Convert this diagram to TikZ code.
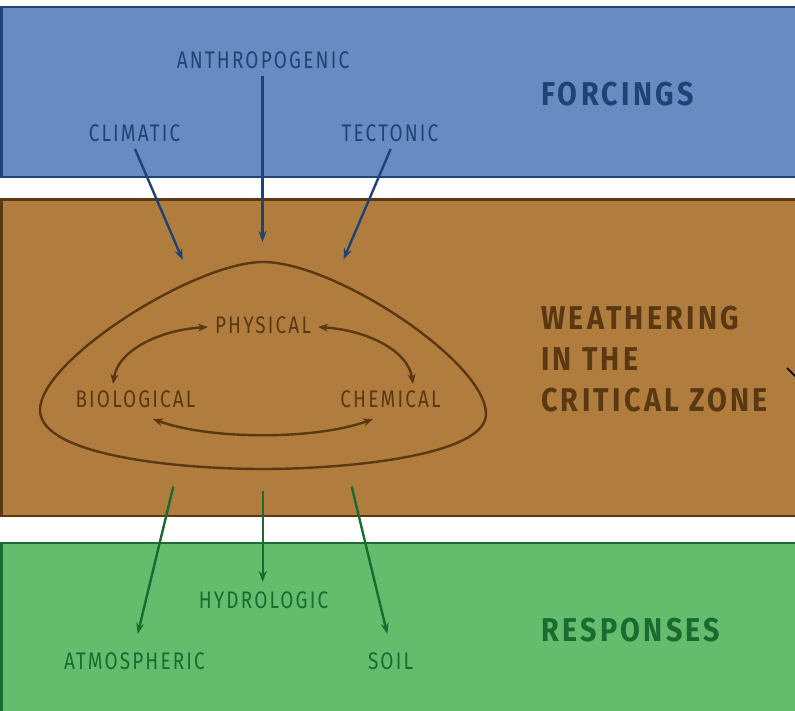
\documentclass[tikz,border=0pt]{standalone}
\usepackage{fontspec}
\setmainfont{Fira Sans}
\newfontfamily\labfont[FakeStretch=0.79,LetterSpace=9]{Fira Sans}
\newfontfamily\headfont[FakeStretch=0.87,LetterSpace=10]{Fira Sans}
\usetikzlibrary{arrows.meta}
\definecolor{bluefill}{HTML}{6A8BC2}
\definecolor{blueline}{HTML}{1E4476}
\definecolor{brownfill}{HTML}{B07D3F}
\definecolor{brownline}{HTML}{5A3812}
\definecolor{greenfill}{HTML}{64BD6C}
\definecolor{greenline}{HTML}{1A6A31}
\tikzset{
  lab/.style={anchor=base,inner sep=0pt,font=\labfont\fontsize{24}{28}\selectfont},
  head/.style={anchor=base west,inner sep=0pt,font=\headfont\bfseries\fontsize{33}{40}\selectfont},
  band/.style={line width=2.5pt},
  arr/.style={line width=2.4pt,-{Stealth[length=11pt,width=8pt]}},
  iarr/.style={line width=2.4pt,brownline,{Stealth[length=10pt,width=8pt]}-{Stealth[length=10pt,width=8pt]}},
}
\begin{document}
\begin{tikzpicture}[x=1pt,y=-1pt]
\useasboundingbox (0,0) rectangle (795,711);
\clip (0,0) rectangle (795,711);
% bands
\draw[band,draw=blueline,fill=bluefill] (1.5,7) rectangle (810,177);
\draw[band,draw=brownline,fill=brownfill] (1.5,199.5) rectangle (810,516);
\draw[band,draw=greenline,fill=greenfill] (1.5,543) rectangle (810,730);
% headings
\node[head,text=blueline] (forc) at (541,106) {FORCINGS};
\node[head,text=brownline] (weat1) at (541,330) {WEATHERING};
\node[head,text=brownline] (weat2) at (541,370.5) {IN THE};
\node[head,text=brownline] (weat3) at (541,411.5) {CRITICAL ZONE};
\node[head,text=greenline] (resp) at (541,641.5) {RESPONSES};
% forcing labels
\node[lab,text=blueline] (anth) at (263,69) {ANTHROPOGENIC};
\node[lab,text=blueline] (clim) at (134.5,142) {CLIMATIC};
\node[lab,text=blueline] (tect) at (390,142) {TECTONIC};
% weathering labels
\node[lab,text=brownline] (phys) at (263,334) {PHYSICAL};
\node[lab,text=brownline] (bio) at (135.5,407) {BIOLOGICAL};
\node[lab,text=brownline] (chem) at (390.5,407) {CHEMICAL};
% response labels
\node[lab,text=greenline] (hydro) at (263.5,608) {HYDROLOGIC};
\node[lab,text=greenline] (atmo) at (134.5,669) {ATMOSPHERIC};
\node[lab,text=greenline] (soil) at (390.5,669) {SOIL};
% blob
\draw[line width=2.4pt,brownline] (263,262) .. controls (335,262) and (486,362) .. (486,414)
  .. controls (486,456) and (345,469) .. (263,469)
  .. controls (180,469) and (40,456) .. (40,410)
  .. controls (40,360) and (195,262) .. (263,262);
% coordinates for connector ends
\coordinate (climS) at (135,149);
\coordinate (climE) at (182.7,260);
\coordinate (anthS) at (262.5,76);
\coordinate (anthE) at (262.5,242);
\coordinate (tectS) at (390.7,149);
\coordinate (tectE) at (343.5,259.5);
\coordinate (atmoS) at (173.3,486.5);
\coordinate (atmoE) at (137.7,634);
\coordinate (hydroS) at (262.7,490.5);
\coordinate (hydroE) at (262.7,582);
\coordinate (soilS) at (351.7,486.5);
\coordinate (soilE) at (387.3,634);
\draw[arr,blueline] (climS) -- (climE);
\draw[arr,blueline] (anthS) -- (anthE);
\draw[arr,blueline] (tectS) -- (tectE);
\draw[arr,greenline] (atmoS) -- (atmoE);
\draw[arr,greenline] (hydroS) -- (hydroE);
\draw[arr,greenline] (soilS) -- (soilE);
% inner cycle
\coordinate (bioT) at (113,384);
\coordinate (physL) at (208,327);
\coordinate (physR) at (318,327);
\coordinate (chemT) at (413,384);
\coordinate (bioB) at (153,419);
\coordinate (chemB) at (373,419);
\draw[iarr] (bioT) .. controls (118,350) and (160,330) .. (physL);
\draw[iarr] (physR) .. controls (366,330) and (408,350) .. (chemT);
\draw[iarr] (bioB) .. controls (210,440) and (316,440) .. (chemB);
% clipped fragment at right edge
\coordinate (fragS) at (787,368);
\coordinate (fragE) at (800,381);
\draw[line width=1.5pt,black] (fragS) -- (fragE);
\end{tikzpicture}
\end{document}
